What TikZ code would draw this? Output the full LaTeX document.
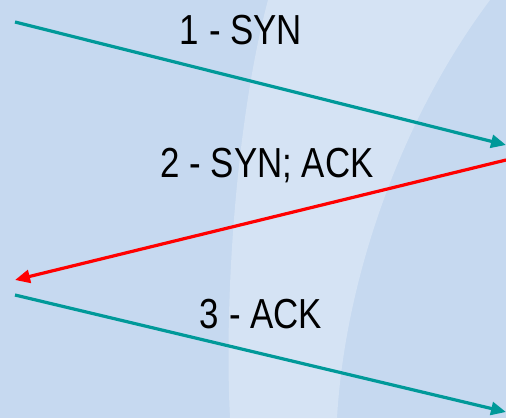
\documentclass[tikz,border=0pt]{standalone}
\usepackage{fontspec}
\setmainfont[FakeStretch=0.83]{Liberation Sans}
\usetikzlibrary{arrows.meta}
\definecolor{bgblue}{HTML}{C6D9F0}
\definecolor{bandblue}{HTML}{D5E3F4}
\definecolor{teal}{HTML}{009999}
\definecolor{msgred}{HTML}{FF0000}
\tikzset{
  msg/.style={line width=3.2pt, -{Triangle[length=15pt,width=13pt]}},
  lbl/.style={font=\fontsize{42}{44}\selectfont, inner sep=0pt, text=black}
}
\begin{document}
\begin{tikzpicture}[x=1pt,y=-1pt]
  % background and light curved band
  \fill[bgblue] (0,0) rectangle (506,418);
  \useasboundingbox (0,0) rectangle (506,418);
  \fill[bandblue] (268,0) .. controls (236,120) and (224,300) .. (230,418)
    -- (337,418) .. controls (345,280) and (400,120) .. (490,0) -- cycle;
  % endpoints of the three messages
  \coordinate (c1) at (15,22);
  \coordinate (s1) at (506,145);
  \coordinate (s2) at (506,160);
  \coordinate (c2) at (15,280);
  \coordinate (c3) at (15,295);
  \coordinate (s3) at (506,412);
  \draw[msg, teal] (c1) -- (s1);
  \draw[msg, msgred] (s2) -- (c2);
  \draw[msg, teal] (c3) -- (s3);
  % labels
  \node[lbl] (l1) at (241,30) {1 - SYN};
  \node[lbl] (l2) at (267,166) {2 - SYN; ACK};
  \node[lbl] (l3) at (261,314) {3 - ACK};
\end{tikzpicture}
\end{document}
